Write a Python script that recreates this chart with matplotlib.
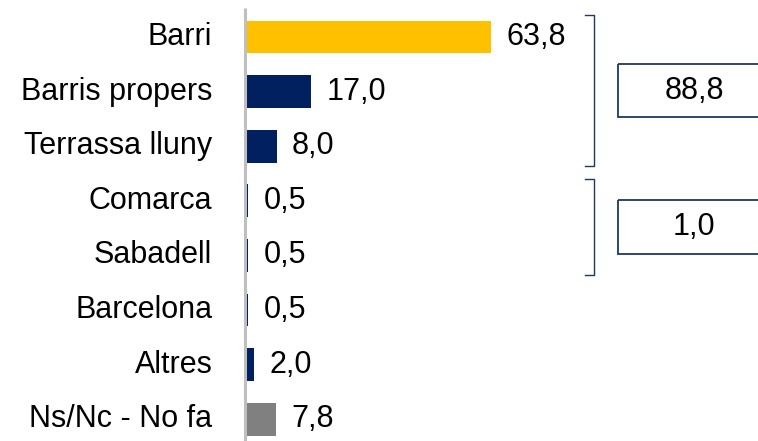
import matplotlib.pyplot as plt
from matplotlib.patches import Rectangle

cats = ['Barri', 'Barris propers', 'Terrassa lluny', 'Comarca', 'Sabadell',
        'Barcelona', 'Altres', 'Ns/Nc - No fa']
vals = [63.8, 17.0, 8.0, 0.5, 0.5, 0.5, 2.0, 7.8]
colors = ['#FFC000', '#002060', '#002060', '#002060', '#002060',
          '#002060', '#002060', '#808080']
groups = [(0, 2), (3, 4)]

plt.rcParams['font.family'] = ['Liberation Sans', 'DejaVu Sans']
fs = 22

fig = plt.figure(figsize=(7.58, 4.41), dpi=100)
ax = fig.add_axes([243 / 758, 0, 1 - 243 / 758, 1])

y = list(range(len(cats)))
ax.barh(y, vals, height=0.6, color=colors, zorder=2)
ax.set_ylim(7.4, -0.68)
ax.set_xlim(-0.8, 133.5)

for i, v in enumerate(vals):
    ax.text(v + 4.0, i, f'{v:.1f}'.replace('.', ','), va='center',
            ha='left', fontsize=fs)
    ax.text(-8.8, i, cats[i], va='center', ha='right', fontsize=fs,
            clip_on=False)

ax.vlines(-0.4, -0.53, 7.5, color='#BFBFBF', lw=2.2, zorder=3)

for a, b in groups:
    top, bot = a - 0.4, b + 0.36
    xv = 90.8
    ax.plot([88.5, xv, xv, 88.5], [top, top, bot, bot],
            color='#1F3864', lw=1)
    mid = (top + bot) / 2
    ax.add_patch(Rectangle((97.1, mid - 0.49), 60, 0.98, fill=False,
                           edgecolor='#1F3864', lw=1.3))
    total = sum(vals[a:b + 1])
    ax.text(116.8, mid, f'{total:.1f}'.replace('.', ','), ha='center',
            va='center', fontsize=fs)

ax.axis('off')
fig.savefig('out.png', dpi=100)
